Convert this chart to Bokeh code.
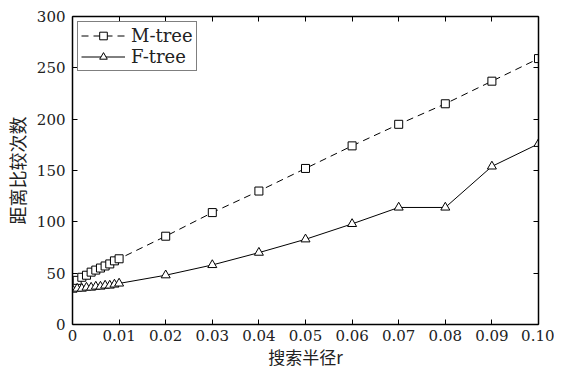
from bokeh.plotting import figure
from bokeh.models import LinearAxis, FixedTicker, Range1d, Legend, LegendItem, CustomJSTickFormatter
from bokeh.embed import file_html
from bokeh.resources import INLINE

radius = [0.0, 0.001, 0.002, 0.003, 0.004, 0.005, 0.006, 0.007, 0.008, 0.009, 0.01,
          0.02, 0.03, 0.04, 0.05, 0.06, 0.07, 0.08, 0.09, 0.10]
mtree = [40, 43, 46, 48, 51, 53, 55, 57, 59, 62, 64,
         86, 109, 130, 152, 174, 195, 215, 237, 259]
ftree = [34, 35, 35, 36, 36, 37, 37, 38, 38, 39, 40,
         48, 58, 70, 83, 98, 114, 114, 154, 176]
x_ticks = [0, 0.01, 0.02, 0.03, 0.04, 0.05, 0.06, 0.07, 0.08, 0.09, 0.10]
x_tick_labels = ["0", "0.01", "0.02", "0.03", "0.04", "0.05", "0.06", "0.07", "0.08", "0.09", "0.10"]
y_ticks = [0, 50, 100, 150, 200, 250, 300]

SERIF = "'DejaVu Serif', serif"
CJK = "'Noto Sans CJK SC', sans-serif"

p = figure(frame_width=466, frame_height=308, output_backend="svg", toolbar_location=None,
           x_range=Range1d(0, 0.1), y_range=Range1d(0, 300),
           min_border_left=72, min_border_right=16, min_border_top=16, min_border_bottom=40,
           x_axis_label="搜索半径r", y_axis_label="距离比较次数")
p.xgrid.visible = False
p.ygrid.visible = False
p.outline_line_color = None

def style(ax, labels=True):
    ax.axis_line_width = 1.5
    ax.axis_line_color = "black"
    ax.major_tick_in = 5
    ax.major_tick_out = 0
    ax.minor_tick_line_color = None
    ax.major_tick_line_color = "black"
    ax.major_tick_line_width = 1
    ax.major_label_text_font = SERIF
    ax.major_label_text_font_size = "15px"
    ax.major_label_text_font_style = "normal"
    ax.major_label_text_color = "#222222"
    ax.major_label_standoff = 5
    ax.axis_label_text_font = CJK
    ax.axis_label_text_font_size = "17px"
    ax.axis_label_text_font_style = "normal"
    ax.axis_label_text_color = "#222222"
    ax.axis_label_standoff = 0
    if not labels:
        ax.formatter = CustomJSTickFormatter(code="return ''")
        ax.major_label_standoff = 0

xt = FixedTicker(ticks=x_ticks)
yt = FixedTicker(ticks=y_ticks)
p.xaxis.ticker = xt
p.yaxis.ticker = yt
p.xaxis.major_label_overrides = {t: l for t, l in zip(x_ticks, x_tick_labels)}
style(p.xaxis[0])
style(p.yaxis[0])
p.yaxis[0].major_label_standoff = 7
p.yaxis[0].axis_label_text_font_size = "18px"
p.yaxis[0].axis_label_standoff = 4

top = LinearAxis(ticker=xt)
style(top, labels=False)
p.add_layout(top, "above")
right = LinearAxis(ticker=yt)
style(right, labels=False)
p.add_layout(right, "right")

l1 = p.line(radius, mtree, line_color="black", line_dash="7 5", line_width=1)
m1 = p.scatter(radius, mtree, marker="square", size=8, fill_color="white",
               line_color="black", line_width=1)
l2 = p.line(radius, ftree, line_color="black", line_width=1)
m2 = p.scatter(radius, ftree, marker="triangle", size=9, fill_color="white",
               line_color="black", line_width=1)

legend = Legend(items=[LegendItem(label="M-tree", renderers=[l1, m1]),
                       LegendItem(label="F-tree", renderers=[l2, m2])],
                location="top_left")
legend.label_text_font = SERIF
legend.label_text_font_size = "18px"
legend.label_text_color = "#222222"
legend.border_line_color = "black"
legend.border_line_width = 1
legend.margin = 5
legend.padding = 3
legend.spacing = 0
legend.glyph_width = 44
legend.label_height = 19
legend.glyph_height = 19
legend.label_standoff = 6
p.add_layout(legend)

open("out.html", "w").write(file_html(p, INLINE))
